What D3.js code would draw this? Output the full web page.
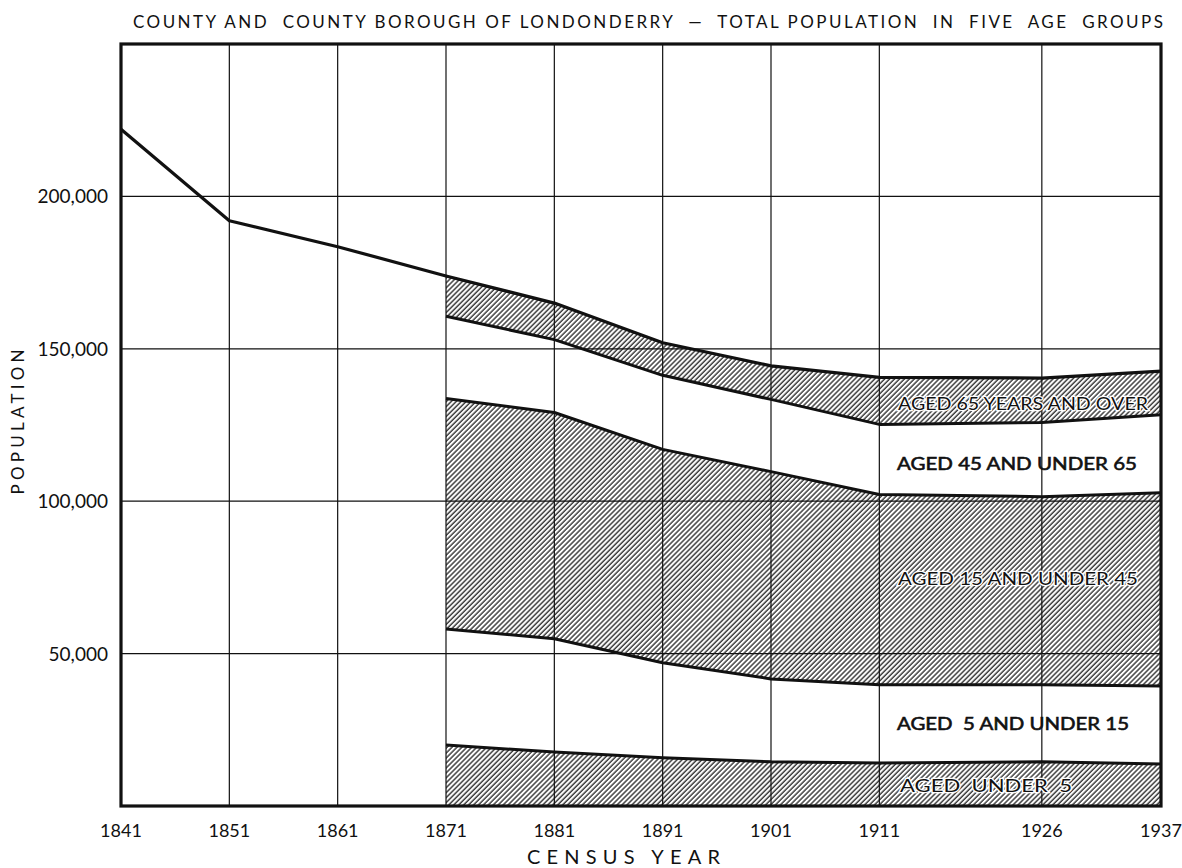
<!DOCTYPE html>
<html>
<head>
<meta charset="utf-8">
<script src="https://cdn.jsdelivr.net/npm/d3@7"></script>
<style>
	body { margin: 0; background: #fff; }
	text { font-family: Lato, "DejaVu Sans", sans-serif; fill: #111; }
</style>
</head>
<body>
<div id="chart"></div>
<script>
// census years and total population (whole series)
var years = [1841, 1851, 1861, 1871, 1881, 1891, 1901, 1911, 1926, 1937];
var totalPop = [222000, 192000, 183500, 173900, 165000, 152000, 144400, 140600, 140400, 142700];

// age groups, only from 1871
var ageYears = [1871, 1881, 1891, 1901, 1911, 1926, 1937];
var under5 = [20000, 17700, 15800, 14500, 14100, 14500, 13800];
var age5to15 = [38100, 37200, 31200, 27200, 25700, 25300, 25600];
var age15to45 = [75600, 74200, 70000, 68000, 62400, 61700, 63400];
var age45to65 = [27000, 23900, 24300, 23700, 23000, 24300, 25600];
var age65plus = [13100, 12200, 10700, 11000, 15400, 14600, 14300];

var groupKeys = ["u5", "a5", "a15", "a45", "a65"];
var groupLabels = ["AGED  UNDER  5", "AGED  5 AND UNDER 15", "AGED 15 AND UNDER 45", "AGED 45 AND UNDER 65", "AGED 65 YEARS AND OVER"];
var yTicks = [50000, 100000, 150000, 200000];
var yTickLabels = ["50,000", "100,000", "150,000", "200,000"];

var W = 1182, H = 868;
var plotL = 121, plotR = 1161, plotT = 44, plotB = 806;

var x = d3.scaleLinear().domain([1841, 1937]).range([plotL, plotR]);
var y = d3.scaleLinear().domain([0, 250000]).range([plotB, plotT]);

var svg = d3.select("#chart").append("svg")
	.attr("width", W)
	.attr("height", H);

// hatching
var defs = svg.append("defs");
defs.append("pattern")
	.attr("id", "hatch")
	.attr("patternUnits", "userSpaceOnUse")
	.attr("width", 3.5)
	.attr("height", 3.5)
	.attr("patternTransform", "rotate(45)")
	.append("line")
	.attr("x1", 1).attr("y1", 0)
	.attr("x2", 1).attr("y2", 3.5)
	.attr("stroke", "#222")
	.attr("stroke-width", 1.3);

var rows = ageYears.map(function(yr, i) {
	return { year: yr, u5: under5[i], a5: age5to15[i], a15: age15to45[i], a45: age45to65[i], a65: age65plus[i] };
});
var series = d3.stack().keys(groupKeys)(rows);

var area = d3.area()
	.x(d => x(d.data.year))
	.y0(d => y(d[0]))
	.y1(d => y(d[1]));

svg.append("g").selectAll("path")
	.data(series)
	.enter()
	.append("path")
	.attr("d", area)
	.attr("fill", (d, i) => i % 2 === 0 ? "url(#hatch)" : "#fff");

// grid
var grid = svg.append("g");
grid.selectAll("line.v")
	.data(years)
	.enter()
	.append("line")
	.attr("x1", d => x(d)).attr("x2", d => x(d))
	.attr("y1", plotT).attr("y2", plotB)
	.attr("stroke", "#111")
	.attr("stroke-width", 1.2);
grid.selectAll("line.h")
	.data(yTicks)
	.enter()
	.append("line")
	.attr("x1", plotL).attr("x2", plotR)
	.attr("y1", d => y(d)).attr("y2", d => y(d))
	.attr("stroke", "#111")
	.attr("stroke-width", 1.2);

// boundary lines of the bands
var edge = d3.line()
	.x(d => x(d.data.year))
	.y(d => y(d[1]));

svg.append("g").selectAll("path")
	.data(series.slice(0, 4))
	.enter()
	.append("path")
	.attr("d", edge)
	.attr("fill", "none")
	.attr("stroke", "#111")
	.attr("stroke-width", 3)
	.attr("stroke-linejoin", "round");

// total population line
var totalLine = d3.line()
	.x((d, i) => x(years[i]))
	.y(d => y(d));

svg.append("path")
	.attr("d", totalLine(totalPop))
	.attr("fill", "none")
	.attr("stroke", "#111")
	.attr("stroke-width", 3.2)
	.attr("stroke-linejoin", "round");

// frame
svg.append("rect")
	.attr("x", plotL).attr("y", plotT)
	.attr("width", plotR - plotL).attr("height", plotB - plotT)
	.attr("fill", "none")
	.attr("stroke", "#111")
	.attr("stroke-width", 3.2);

// band labels
var labelPos = [[900, 792, 172], [897, 730, 232], [898, 585, 240], [897, 470, 240], [898, 410, 250]];
svg.append("g").selectAll("text")
	.data(groupLabels)
	.enter()
	.append("text")
	.attr("x", (d, i) => labelPos[i][0])
	.attr("y", (d, i) => labelPos[i][1])
	.attr("textLength", (d, i) => labelPos[i][2])
	.attr("lengthAdjust", "spacingAndGlyphs")
	.style("font-size", "18px")
	.style("white-space", "pre")
	.attr("paint-order", "stroke")
	.attr("stroke", (d, i) => i % 2 === 0 ? "#fff" : "#111")
	.attr("stroke-width", (d, i) => i % 2 === 0 ? 2.5 : 0.6)
	.text(d => d);

// axes labels
svg.append("g").selectAll("text")
	.data(yTicks)
	.enter()
	.append("text")
	.attr("x", 108)
	.attr("y", d => y(d) + 7)
	.attr("text-anchor", "end")
	.style("font-size", "19px")
	.text((d, i) => yTickLabels[i]);

svg.append("g").selectAll("text")
	.data(years)
	.enter()
	.append("text")
	.attr("x", d => x(d))
	.attr("y", 837)
	.attr("text-anchor", "middle")
	.style("font-size", "18px")
	.text(d => d);

svg.append("text")
	.attr("x", 625)
	.attr("y", 864)
	.attr("text-anchor", "middle")
	.attr("textLength", 196)
	.style("font-size", "20px")
	.style("letter-spacing", "3px")
	.text("CENSUS YEAR");

svg.append("text")
	.attr("transform", "translate(24,422) rotate(-90)")
	.attr("text-anchor", "middle")
	.attr("textLength", 145)
	.style("font-size", "17px")
	.text("POPULATION");

svg.append("text")
	.attr("x", 133)
	.attr("y", 28)
	.attr("textLength", 1030)
	.style("font-size", "17px")
	.style("white-space", "pre")
	.text("COUNTY AND  COUNTY BOROUGH OF LONDONDERRY  —  TOTAL POPULATION  IN  FIVE  AGE  GROUPS");
</script>
</body>
</html>
